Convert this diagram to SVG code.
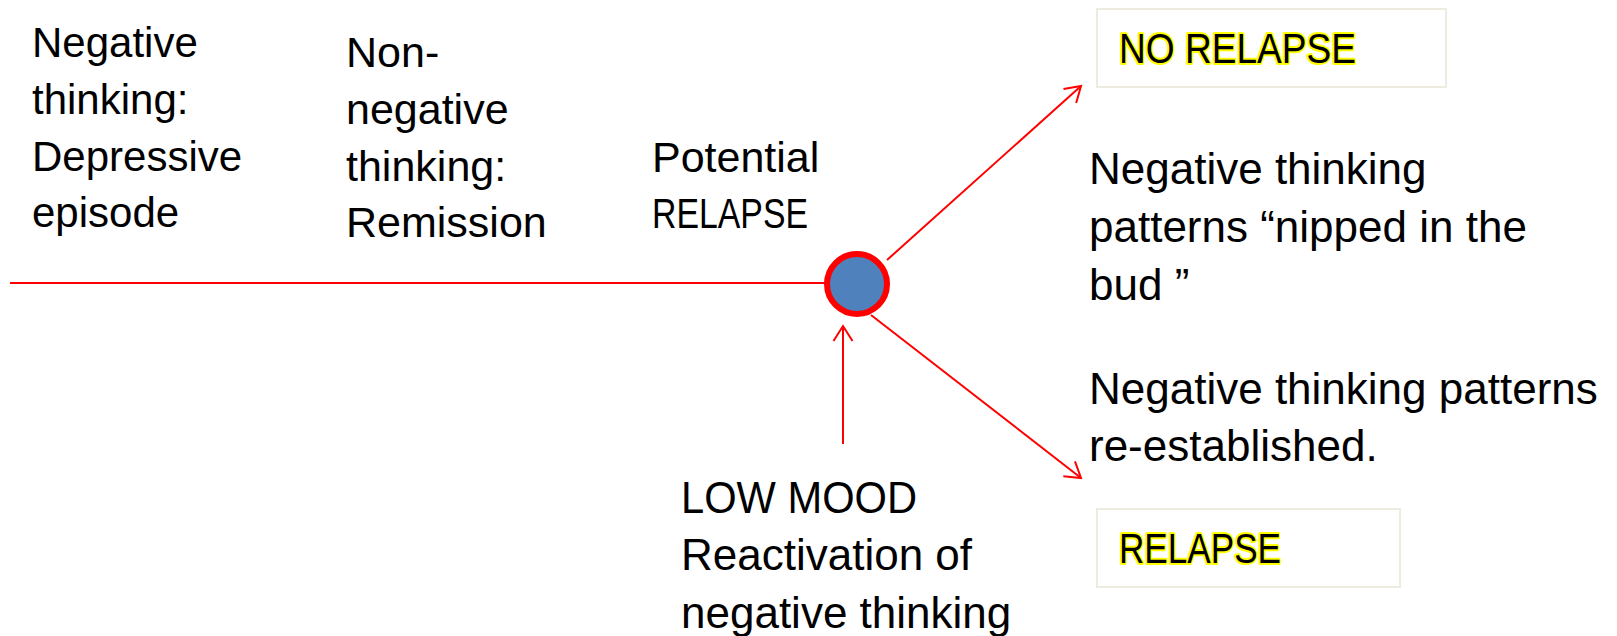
<svg xmlns="http://www.w3.org/2000/svg" width="1617" height="636" viewBox="0 0 1617 636">
<style>
.t{font-family:"Liberation Sans",Arial,sans-serif;font-size:43px;fill:#000}
.s{font-size:42px}
.l{font-size:44px}
.g{font-family:"Liberation Sans",Arial,sans-serif;font-size:42px;fill:#000;stroke:#FFFF00;stroke-width:4;paint-order:stroke;stroke-linejoin:round}
.c{stroke:#FF0000;stroke-width:2;fill:none}
.box{fill:#FFFFFF;stroke:#EEECE1;stroke-width:2}
</style>
<defs>
<marker id="arr" markerUnits="userSpaceOnUse" viewBox="-2 -12 19 24" markerWidth="19" markerHeight="24" refX="15" refY="0" orient="auto">
<path d="M0,-9.5 L15,0 L0,9.5" fill="none" stroke="#FF0000" stroke-width="2"/>
</marker>
</defs>
<rect width="1617" height="636" fill="#FFFFFF"/>
<g id="connectors">
<line class="c" x1="10" y1="283" x2="826" y2="283"/>
<line class="c" x1="887" y1="260" x2="1081" y2="86" marker-end="url(#arr)"/>
<line class="c" x1="871" y1="315" x2="1081" y2="478" marker-end="url(#arr)"/>
<line class="c" x1="843" y1="444" x2="843" y2="326" marker-end="url(#arr)"/>
</g>
<g id="node-circle">
<circle cx="857" cy="284" r="30" fill="#4F81BD" stroke="#FF0000" stroke-width="6"/>
</g>
<g id="label-negative">
<text class="t s" x="32" y="57">Negative</text>
<text class="t s" x="32" y="114">thinking:</text>
<text class="t s" x="32" y="171">Depressive</text>
<text class="t s" x="32" y="227">episode</text>
</g>
<g id="label-nonnegative">
<text class="t" x="346" y="67">Non-</text>
<text class="t" x="346" y="124">negative</text>
<text class="t" x="346" y="181">thinking:</text>
<text class="t" x="346" y="237">Remission</text>
</g>
<g id="label-potential">
<text class="t" x="652" y="172">Potential</text>
<text class="t" x="652" y="228" textLength="156" lengthAdjust="spacingAndGlyphs">RELAPSE</text>
</g>
<g id="label-lowmood">
<text class="t l" x="681" y="513" textLength="236" lengthAdjust="spacingAndGlyphs">LOW MOOD</text>
<text class="t l" x="681" y="570">Reactivation of</text>
<text class="t l" x="681" y="628">negative thinking</text>
</g>
<g id="node-no-relapse">
<rect class="box" x="1097" y="9" width="349" height="78"/>
<text class="g" x="1119" y="63" textLength="237" lengthAdjust="spacingAndGlyphs">NO RELAPSE</text>
</g>
<g id="label-nipped">
<text class="t l" x="1089" y="184">Negative thinking</text>
<text class="t l" x="1089" y="242">patterns “nipped in the</text>
<text class="t l" x="1089" y="300">bud ”</text>
</g>
<g id="label-reestablished">
<text class="t l" x="1089" y="404">Negative thinking patterns</text>
<text class="t l" x="1089" y="461">re-established.</text>
</g>
<g id="node-relapse">
<rect class="box" x="1097" y="509" width="303" height="78"/>
<text class="g" x="1119" y="563" textLength="162" lengthAdjust="spacingAndGlyphs">RELAPSE</text>
</g>
</svg>
